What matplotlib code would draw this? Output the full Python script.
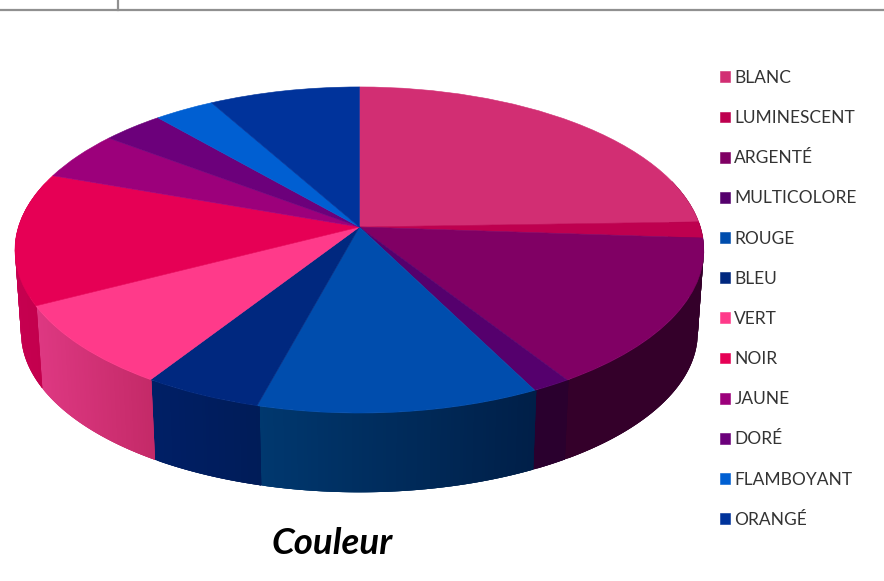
import numpy as np
import matplotlib
matplotlib.use('Agg')
import matplotlib.pyplot as plt
from matplotlib.colors import to_rgb
from matplotlib.path import Path
from matplotlib.transforms import Transform

labels = ['BLANC', 'LUMINESCENT', 'ARGENTÉ', 'MULTICOLORE', 'ROUGE', 'BLEU',
          'VERT', 'NOIR', 'JAUNE', 'DORÉ', 'FLAMBOYANT', 'ORANGÉ']
values = [24.5, 1.6, 14.9, 1.6, 11.6, 4.9, 8.3, 13.1, 4.85, 3.35, 3.25, 8.1]
top_colors = ['#D22E73', '#BE004F', '#800064', '#55006D', '#004DAD', '#00287F',
              '#FF3A8A', '#E60055', '#9C007B', '#6C007B', '#005FD2', '#00339B']
side_left = ['#5A0A30', '#36002A', '#34002A', '#2A002E', '#00386F', '#001F66',
             '#DE3882', '#C60050', '#C60050', '#C60050', '#C60050', '#C60050']
side_right = ['#5A0A30', '#36002A', '#34002A', '#2A002E', '#001F48', '#001C58',
              '#C42A68', '#C2004C', '#C2004C', '#C2004C', '#C2004C', '#C2004C']


class Perspective(Transform):
    # tilted disc: unit circle -> pixel position
    input_dims = 2
    output_dims = 2

    def __init__(self, cx, cy, rx, ry, k):
        super().__init__()
        self.cx, self.cy, self.rx, self.ry, self.k = cx, cy, rx, ry, k

    def transform_non_affine(self, xy):
        xy = np.asarray(xy)
        w = 1 + self.k * xy[:, 1]
        return np.column_stack([self.cx + self.rx * xy[:, 0] / w,
                                self.cy - self.ry * xy[:, 1] / w])

    def transform_path_non_affine(self, path):
        return Path(self.transform_non_affine(path.vertices), path.codes)


plt.rcParams['font.family'] = ['Lato', 'DejaVu Sans']

fig = plt.figure(figsize=(8.84, 5.81), dpi=100)
ax = fig.add_axes([0, 0, 1, 1])

top_disc = Perspective(359.4, 227, 341.0, 159.8, 0.141)
bottom_disc = Perspective(359.4, 310, 335.0, 156.6, 0.141)

wedges, _ = ax.pie(values, colors=top_colors, startangle=90, counterclock=False,
                   wedgeprops={'linewidth': 0.4, 'zorder': 3})
for w, c in zip(wedges, top_colors):
    w.set_edgecolor(c)
    w.set_transform(top_disc + ax.transData)

ax.set_aspect('auto')
ax.set_xlim(0, 884)
ax.set_ylim(581, 0)
ax.axis('off')

# side wall of the pie, each strip runs under the next one so no seams show
for w, c1, c2 in zip(wedges, side_left, side_right):
    ang = np.radians(np.arange(w.theta1, w.theta2 + 0.5, 0.5))
    ang = ang[np.sin(ang) < 0.3]
    if len(ang) < 2:
        continue
    unit = np.column_stack([np.cos(ang), np.sin(ang)])
    upper = top_disc.transform_non_affine(unit)
    lower = bottom_disc.transform_non_affine(unit)
    x0, x1 = upper[:, 0].min(), upper[:, 0].max()
    for i in range(len(ang) - 1):
        j = min(i + 3, len(ang) - 1)
        t = ((upper[i, 0] + upper[i + 1, 0]) / 2 - x0) / max(x1 - x0, 1)
        col = (1 - t) * np.array(to_rgb(c1)) + t * np.array(to_rgb(c2))
        ax.fill([upper[i, 0], upper[j, 0], lower[j, 0], lower[i, 0]],
                [upper[i, 1], upper[j, 1], lower[j, 1], lower[i, 1]],
                color=col, lw=0, zorder=2)

# window border at the top
ax.plot([0, 884], [10, 10], color='#909090', lw=1.6, zorder=1)
ax.plot([118, 118], [0, 10], color='#909090', lw=1.6, zorder=1)

size = 12.5
px = size * 100 / 72
ax.legend(wedges, labels, loc='upper left', bbox_to_anchor=(720, 70),
          bbox_transform=ax.transData, frameon=False, fontsize=size,
          labelcolor='#333333', borderpad=0, borderaxespad=0,
          handlelength=10 / px, handleheight=10 / px, handletextpad=4.3 / px,
          labelspacing=(40.65 - px * 0.95) / px)

ax.text(332, 543, 'Couleur', fontsize=26.4, fontweight='bold', fontstyle='italic',
        color='black', ha='center', va='center')

fig.savefig('out.png', dpi=100)
